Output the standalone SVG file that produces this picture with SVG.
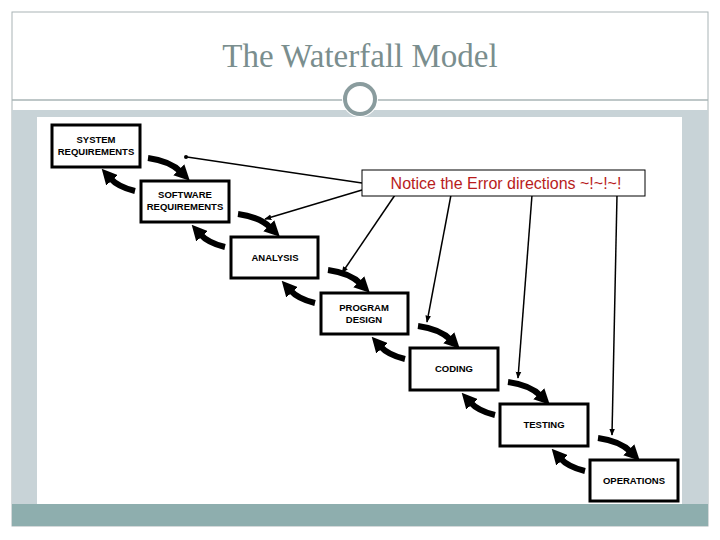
<svg xmlns="http://www.w3.org/2000/svg" xmlns:xlink="http://www.w3.org/1999/xlink" width="720" height="540" viewBox="0 0 720 540">
<style>
.box{fill:#fff;stroke:#000;stroke-width:3}
.lbl{font-family:"Liberation Sans",Arial,sans-serif;font-weight:bold;font-size:9.5px;text-anchor:middle;fill:#000}
.fat{fill:none;stroke:#000;stroke-width:6}
.thin{fill:none;stroke:#000;stroke-width:1.5}
</style>
<defs>
<marker id="big" viewBox="0 0 10 10" refX="2" refY="5" markerWidth="2.6" markerHeight="2.6" orient="auto"><path d="M0,0L10,5L0,10z"/></marker>
<marker id="sm" viewBox="0 0 10 10" refX="9" refY="5" markerWidth="7" markerHeight="7" markerUnits="userSpaceOnUse" orient="auto"><path d="M0,1L10,5L0,9z"/></marker>
<g id="pair">
<path class="fat" d="M0,0 Q22,3 33,14" marker-end="url(#big)"/>
<path class="fat" d="M-13,33 Q-30,29 -38,20" marker-end="url(#big)"/>
</g>
</defs>
<rect x="0" y="0" width="720" height="540" fill="#fff"/>
<rect x="12" y="12" width="696" height="514" fill="#fff" stroke="#a9b4b6"/>
<text x="360" y="67" font-family="Liberation Serif,serif" font-size="33" fill="#7a8e8e" text-anchor="middle">The Waterfall Model</text>
<rect x="12" y="110" width="696" height="395" fill="#c8d3d7"/>
<line x1="12" y1="100" x2="708" y2="100" stroke="#a9b4b6" stroke-width="1.5"/>
<circle cx="360" cy="99" r="18" fill="#fff"/>
<circle cx="360" cy="99" r="15" fill="#fff" stroke="#8a9c9e" stroke-width="4"/>
<rect x="37" y="117" width="645" height="388" fill="#fff"/>
<rect x="12" y="504" width="696" height="22" fill="#8eaeae"/>
<g id="connectors">
<use xlink:href="#pair" x="148" y="158"/>
<use xlink:href="#pair" x="238" y="214"/>
<use xlink:href="#pair" x="328" y="270"/>
<use xlink:href="#pair" x="418" y="326"/>
<use xlink:href="#pair" x="508" y="382"/>
<use xlink:href="#pair" x="598" y="438"/>
<line class="thin" x1="362" y1="183" x2="187" y2="157"/>
<circle cx="186" cy="157" r="2"/>
<line class="thin" x1="362" y1="190" x2="265" y2="219" marker-end="url(#sm)"/>
<line class="thin" x1="395" y1="195" x2="342" y2="273" marker-end="url(#sm)"/>
<line class="thin" x1="451" y1="195" x2="427" y2="322" marker-end="url(#sm)"/>
<line class="thin" x1="532" y1="195" x2="518" y2="378" marker-end="url(#sm)"/>
<line class="thin" x1="617" y1="195" x2="612" y2="435" marker-end="url(#sm)"/>
</g>
<g id="note"><rect x="362" y="170" width="283" height="26" fill="#fff" stroke="#000"/>
<text x="506" y="189" font-family="Liberation Sans,Arial,sans-serif" font-size="16" fill="#b81c1c" text-anchor="middle">Notice the Error directions ~!~!~!</text></g>
<g id="sys"><rect class="box" x="52" y="125" width="88" height="42"/><text class="lbl" x="96" y="143">SYSTEM</text><text class="lbl" x="96" y="155">REQUIREMENTS</text></g>
<g id="sw"><rect class="box" x="141" y="181" width="88" height="41"/><text class="lbl" x="185" y="198">SOFTWARE</text><text class="lbl" x="185" y="210">REQUIREMENTS</text></g>
<g id="an"><rect class="box" x="231" y="237" width="87" height="41"/><text class="lbl" x="275" y="261">ANALYSIS</text></g>
<g id="pd"><rect class="box" x="321" y="293" width="87" height="41"/><text class="lbl" x="364" y="311">PROGRAM</text><text class="lbl" x="364" y="323">DESIGN</text></g>
<g id="cd"><rect class="box" x="410" y="348" width="88" height="42"/><text class="lbl" x="454" y="372">CODING</text></g>
<g id="ts"><rect class="box" x="500" y="404" width="88" height="42"/><text class="lbl" x="544" y="428">TESTING</text></g>
<g id="op"><rect class="box" x="590" y="460" width="88" height="41"/><text class="lbl" x="634" y="484">OPERATIONS</text></g>
</svg>
